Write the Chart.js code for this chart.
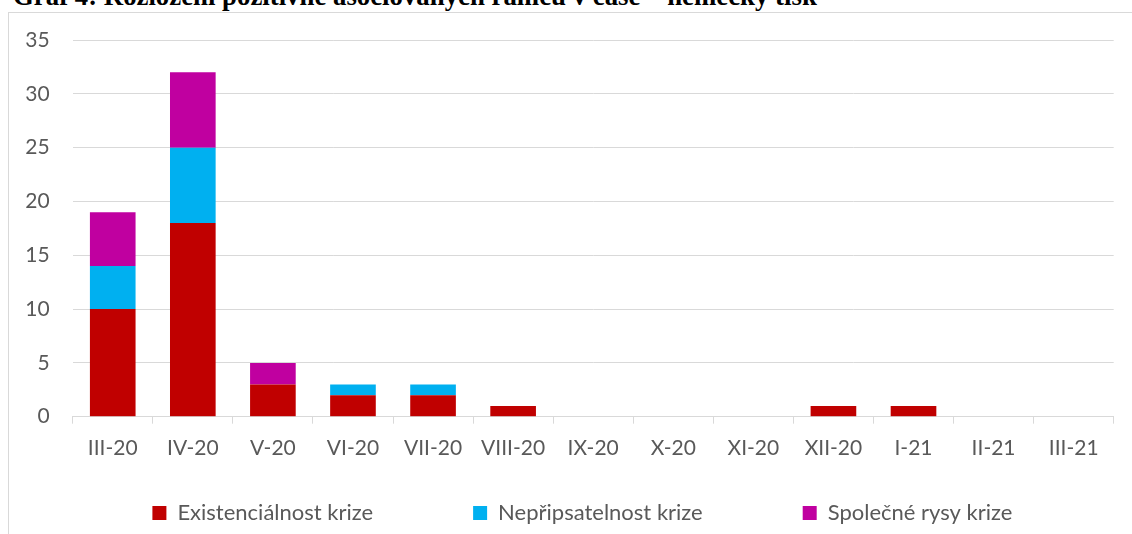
<!DOCTYPE html>
<html>
<head>
<meta charset="utf-8">
<script src="https://cdn.jsdelivr.net/npm/chart.js@4.4.1/dist/chart.umd.min.js"></script>
<style>
  html, body { margin: 0; padding: 0; background: #fff; overflow: hidden; }
  body { width: 1132px; height: 534px; position: relative; }
  #title {
    position: absolute; left: 13px; top: -17px;
    font: bold 26.8px "Liberation Serif", "Times New Roman", serif;
    line-height: 27px; white-space: nowrap; color: #000;
  }
  #frame { position: absolute; left: 8px; top: 12px; width: 1140px; height: 540px; border: 1px solid #d9d9d9; }
  #wrap { position: absolute; left: 9px; top: 13px; width: 1123px; height: 521px; }
</style>
</head>
<body>
<div id="title">Graf 4: Rozložení pozitivně asociovaných rámců v čase – německý tisk</div>
<div id="frame"></div>
<div id="wrap"><canvas id="graf"></canvas></div>
<script>
const months = ['III-20', 'IV-20', 'V-20', 'VI-20', 'VII-20', 'VIII-20', 'IX-20', 'X-20', 'XI-20', 'XII-20', 'I-21', 'II-21', 'III-21']
const existencialnost = [10, 18, 3, 2, 2, 1, 0, 0, 0, 1, 1, 0, 0]
const nepripsatelnost = [4, 7, 0, 1, 1, 0, 0, 0, 0, 0, 0, 0, 0]
const spolecneRysy = [5, 7, 2, 0, 0, 0, 0, 0, 0, 0, 0, 0, 0]
const yMax = 35
const yStep = 5

const gray = '#d9d9d9'
const textGray = '#595959'
const tickFont = { family: 'Lato', size: 21 }
const legendFont = { family: 'Lato', size: 22 }

// legend padding is also the gap between items, so pull the row back up
// and nudge it right to where Excel centres it (legend clips to its own box)
const legendRow = {
  id: 'legendRow',
  afterLayout(chart) {
    const lg = chart.legend
    lg.top -= lg.options.labels.padding + legendFont.size / 2 - lg.height / 2
    lg.left += 21
    lg.right += 21
  }
}

const ctx = document.getElementById('graf').getContext('2d')
const chart = new Chart(ctx, {
  type: 'bar',
  data: {
    labels: months,
    datasets: [
      { label: 'Existenciálnost krize', data: existencialnost, backgroundColor: '#c00000' },
      { label: 'Nepřipsatelnost krize', data: nepripsatelnost, backgroundColor: '#00b0f0' },
      { label: 'Společné rysy krize', data: spolecneRysy, backgroundColor: '#c000a0' }
    ]
  },
  options: {
    responsive: true,
    maintainAspectRatio: false,
    animation: false,
    layout: { padding: { top: 27, right: 18.3, bottom: 1, left: 0 } },
    datasets: { bar: { categoryPercentage: 1, barPercentage: 0.57, borderWidth: 0 } },
    plugins: {
      tooltip: { enabled: false },
      legend: {
        position: 'bottom',
        maxHeight: 40,
        labels: { boxWidth: 14, boxHeight: 14, padding: 100, color: textGray, font: legendFont }
      }
    },
    scales: {
      x: {
        stacked: true,
        grid: { display: true, drawOnChartArea: false, drawTicks: true, tickLength: 7, color: gray },
        border: { display: true, color: gray, width: 1 },
        ticks: { color: textGray, font: tickFont, padding: 12, maxRotation: 0, autoSkip: false },
        afterFit: (scale) => { scale.height = 76.3 }
      },
      y: {
        stacked: true,
        min: 0,
        max: yMax,
        // invisible tick marks make the label gap (ticks.padding would also pad the top)
        grid: { color: gray, drawTicks: true, tickLength: 20, tickColor: 'rgba(0,0,0,0)' },
        border: { display: false },
        ticks: { stepSize: yStep, color: textGray, font: tickFont, padding: 3 },
        afterFit: (scale) => { scale.width = 63.7 }
      }
    }
  },
  plugins: [legendRow]
})
</script>
</body>
</html>
